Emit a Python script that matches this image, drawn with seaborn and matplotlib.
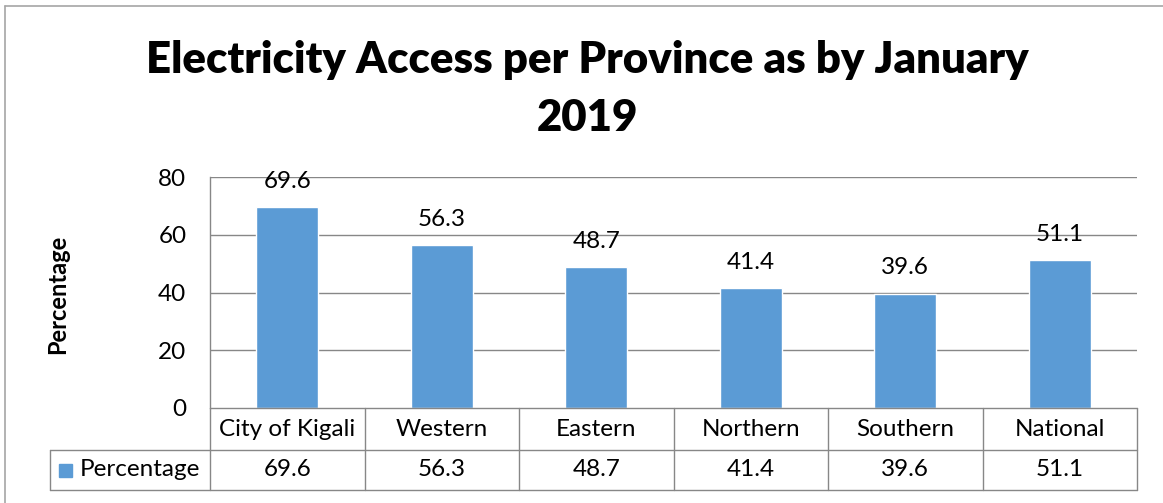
import matplotlib
matplotlib.use("Agg")
import matplotlib.pyplot as plt
import matplotlib.transforms as mtransforms
from matplotlib.lines import Line2D
from matplotlib.patches import Rectangle
import seaborn as sns
import pandas as pd

categories = ["City of Kigali", "Western", "Eastern", "Northern", "Southern", "National"]
values = [69.6, 56.3, 48.7, 41.4, 39.6, 51.1]
series_name = "Percentage"
title_lines = ["Electricity Access per Province as by January", "2019"]
y_ticks = [0, 20, 40, 60, 80]

BAR = "#5B9BD5"
GRID = "#878787"
FONT = ["Lato", "DejaVu Sans"]
FS = 17.5

sns.set_theme(style="white")
plt.rcParams["font.family"] = FONT
plt.rcParams["text.color"] = "black"
plt.rcParams["ytick.color"] = "black"
plt.rcParams["xtick.color"] = "black"
plt.rcParams["axes.labelcolor"] = "black"

W, H = 1163, 503
fig = plt.figure(figsize=(W / 100, H / 100), dpi=100)
L, R, T, B = 210, 1137, 177, 408
ax = fig.add_axes([L / W, 1 - B / H, (R - L) / W, (B - T) / H])

df = pd.DataFrame({"cat": categories, "val": values})
sns.barplot(data=df, x="cat", y="val", color=BAR, width=0.4, ax=ax, saturation=1)

ax.set_ylim(0, 80)
ax.set_xlim(-0.5, len(categories) - 0.5)
ax.set_yticks(y_ticks)
ax.set_yticklabels([str(t) for t in y_ticks], fontsize=FS, color="black")
ax.tick_params(axis="y", length=0, pad=17)
ax.set_xticks([])
ax.set_xlabel("")
ax.set_ylabel("")
for t in y_ticks[1:]:
    ax.axhline(t, color=GRID, lw=1, zorder=0)
for s in ["top", "right", "bottom"]:
    ax.spines[s].set_visible(False)
ax.spines["left"].set_color(GRID)
ax.spines["left"].set_linewidth(1)

# data labels
for i, v in enumerate(values):
    ax.annotate(f"{v}", (i, v), xytext=(0, 11), textcoords="offset points",
                ha="center", va="bottom", fontsize=FS, color="black")

# data table
trans = mtransforms.blended_transform_factory(ax.transData, ax.transAxes)
row1_top = 0.0
row1_bot = -(450 - 408) / (B - T)
row2_bot = -(490 - 408) / (B - T)
legend_left_ax = (50 - L) / (R - L)
n = len(categories)
lc = dict(color=GRID, lw=1, clip_on=False)
ax.plot([-0.5, n - 0.5], [row1_top, row1_top], transform=trans, **lc)
ax.plot([legend_left_ax, 1], [row1_bot, row1_bot], transform=ax.transAxes, **lc)
ax.plot([legend_left_ax, 1], [row2_bot, row2_bot], transform=ax.transAxes, **lc)
for i in range(n + 1):
    ax.plot([i - 0.5, i - 0.5], [row1_top, row2_bot], transform=trans, **lc)
ax.plot([legend_left_ax, legend_left_ax], [row1_bot, row2_bot], transform=ax.transAxes, **lc)

for i, (c, v) in enumerate(zip(categories, values)):
    ax.text(i, (row1_top + row1_bot) / 2, c, transform=trans, ha="center", va="center",
            fontsize=FS, color="black", clip_on=False)
    ax.text(i, (row1_bot + row2_bot) / 2, f"{v}", transform=trans, ha="center", va="center",
            fontsize=FS, color="black", clip_on=False)

# legend key in table
ymid = (row1_bot + row2_bot) / 2
key_w = 13 / (R - L)
key_h = 13 / (B - T)
key_x = (59 - L) / (R - L)
ax.add_patch(Rectangle((key_x, ymid - key_h / 2), key_w, key_h, transform=ax.transAxes,
                       color=BAR, clip_on=False))
ax.text((80 - L) / (R - L), ymid, series_name, transform=ax.transAxes, ha="left", va="center",
        fontsize=FS, color="black", clip_on=False)

# y label
fig.text(58 / W, 1 - 294 / H, series_name, rotation=90, ha="center", va="center",
         fontsize=17, fontweight="bold", color="black")

# title
fig.text(587 / W, 1 - 73 / H, title_lines[0], ha="center", va="baseline", fontsize=31.5,
         fontweight="heavy", color="black")
fig.text(587 / W, 1 - 131 / H, title_lines[1], ha="center", va="baseline", fontsize=31.5,
         fontweight="heavy", color="black")

# outer border (top and left)
fig.add_artist(Line2D([5 / W, 1], [1 - 5.5 / H, 1 - 5.5 / H], color="#A6A6A6", lw=1.2,
                      transform=fig.transFigure))
fig.add_artist(Line2D([5 / W, 5 / W], [0, 1 - 5.5 / H], color="#A6A6A6", lw=1.2,
                      transform=fig.transFigure))

fig.savefig("out.png", dpi=100, facecolor="white")
